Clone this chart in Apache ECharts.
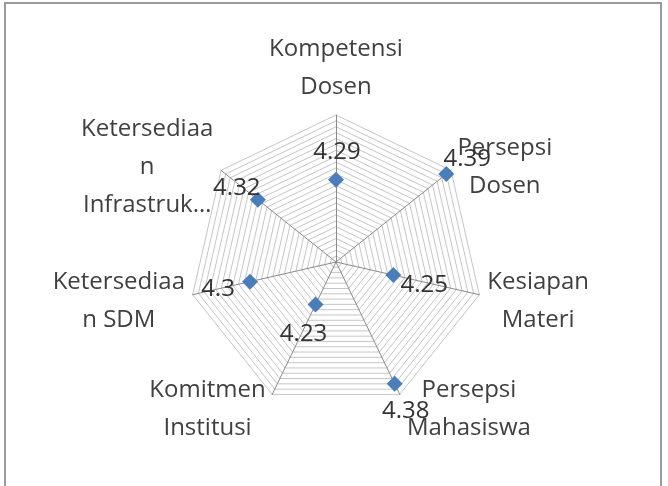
<!DOCTYPE html>
<html>
<head>
<meta charset="utf-8">
<script src="https://cdn.jsdelivr.net/npm/echarts@6/dist/echarts.min.js"></script>
<style>
html,body{margin:0;padding:0;background:#fff;}
#chart{width:668px;height:486px;}
</style>
</head>
<body>
<div id="chart"></div>
<script>
// Categories in counter-clockwise order starting from the top
var categories = [
  "Kompetensi\nDosen",
  "Ketersediaa\nn\nInfrastruk…",
  "Ketersediaa\nn SDM",
  "Komitmen\nInstitusi",
  "Persepsi\nMahasiswa",
  "Kesiapan\nMateri",
  "Persepsi\nDosen"
];
var values = [4.29, 4.32, 4.3, 4.23, 4.38, 4.25, 4.39];
var axisMin = 4.15;
var axisMax = 4.40;
var ringCount = 25;

// styling: label offsets (text center relative to marker), name block widths, vertical shifts
var labelOffsets = [[1,-28],[-21,-12],[-32,8],[-12,30],[11,27],[31,10],[21,-15]];
var nameWidths = [142, 140, 138, 125, 134, 108, 100];
var nameShiftY = [-4, 0, 5, 10, 10, 5, 0];

var rich = {};
labelOffsets.forEach(function(o, i){
  var dx = o[0], dy = o[1];
  rich['o'+i] = {
    fontFamily: 'Open Sans', fontSize: 24, color: '#333',
    padding: [Math.max(0,2*dy), Math.max(0,-2*dx), Math.max(0,-2*dy), Math.max(0,2*dx)]
  };
});
var nameRich = {};
nameWidths.forEach(function(w, i){
  var s = nameShiftY[i];
  nameRich['n'+i] = {
    fontFamily:'Open Sans', fontSize:24, color:'#404040', lineHeight:38,
    width:w, align:'center',
    padding:[Math.max(0,2*s),0,Math.max(0,-2*s),0]
  };
});

var chart = echarts.init(document.getElementById('chart'), null, {renderer:'canvas'});
chart.setOption({
  backgroundColor: '#ffffff',
  animation: false,
  graphic: [{
    type: 'rect', shape: {x: 5, y: 3, width: 656, height: 500},
    style: {fill: 'none', stroke: '#9a9a9a', lineWidth: 2}, silent: true
  }],
  radar: {
    center: [336, 262],
    radius: 147,
    startAngle: 90,
    splitNumber: ringCount,
    shape: 'polygon',
    nameGap: 5,
    indicator: categories.map(function(c){ return {name: c, min: axisMin, max: axisMax}; }),
    axisName: {
      rich: nameRich,
      formatter: function(name){
        var i = categories.indexOf(name);
        return name.split('\n').map(function(t){
          return '{n' + i + '|' + t + '}';
        }).join('\n');
      }
    },
    splitLine: {lineStyle: {color: '#c6c6c6', width: 1}},
    splitArea: {show: false},
    axisLine: {lineStyle: {color: '#8a8a8a', width: 1}},
    axisTick: {show: false},
    axisLabel: {show: false}
  },
  series: [{
    type: 'radar',
    symbol: 'diamond',
    symbolSize: 16,
    itemStyle: {color: '#4a7ebb'},
    lineStyle: {width: 0, opacity: 0},
    label: {
      show: true,
      position: 'inside',
      rich: rich,
      formatter: function(p){
        var i = values.indexOf(p.value);
        return '{o' + i + '|' + p.value + '}';
      }
    },
    data: [{value: values}]
  }]
});
</script>
</body>
</html>
